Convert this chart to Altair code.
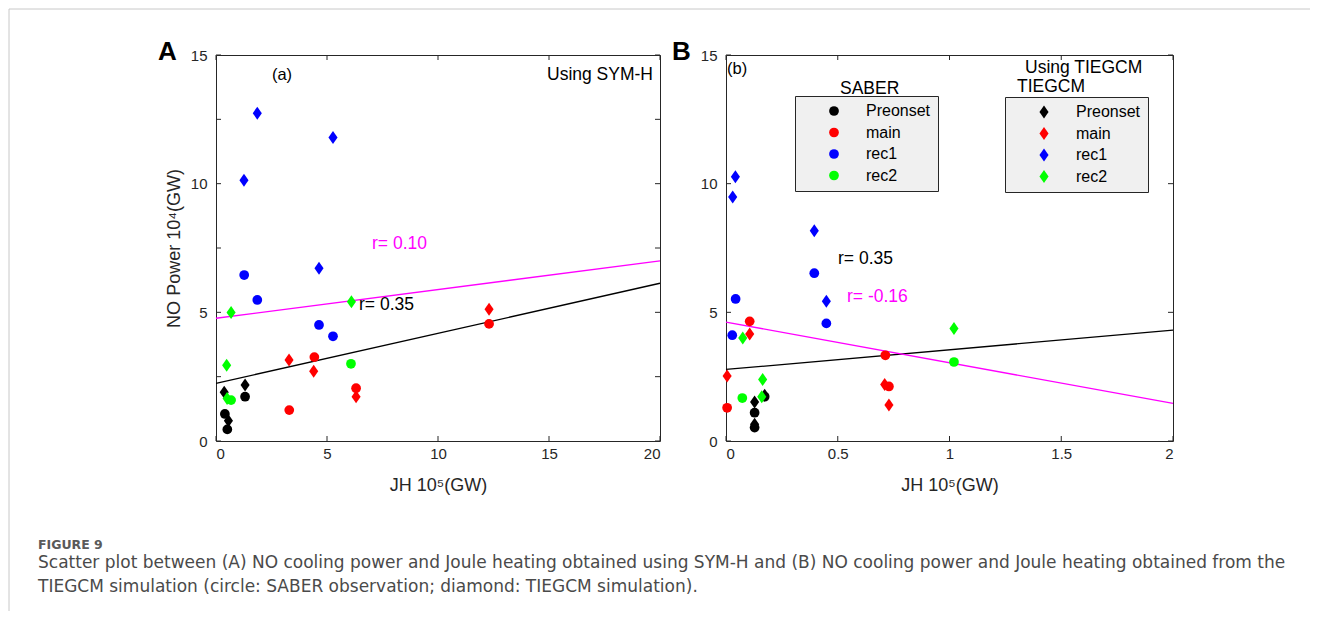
import altair as alt
import pandas as pd

# ---------------- data ----------------
phases = ["Preonset", "main", "rec1", "rec2"]
phase_colors = ["#000000", "#ff0000", "#0000ff", "#00ff00"]

# Panel A (using SYM-H): SABER circles
a_circ_phase = ["Preonset", "Preonset", "Preonset", "main", "main", "main", "main",
                "rec1", "rec1", "rec1", "rec1", "rec2", "rec2"]
a_circ_x = [0.40, 0.51, 1.31, 3.30, 4.43, 6.31, 12.30, 1.27, 1.86, 4.64, 5.27, 0.68, 6.08]
a_circ_y = [1.05, 0.45, 1.72, 1.20, 3.26, 2.05, 4.55, 6.45, 5.48, 4.51, 4.07, 1.59, 3.00]
# Panel A: TIEGCM diamonds
a_dia_phase = ["Preonset", "Preonset", "Preonset", "main", "main", "main", "main",
               "rec1", "rec1", "rec1", "rec1", "rec2", "rec2", "rec2", "rec2"]
a_dia_x = [0.37, 1.31, 0.56, 3.29, 4.40, 6.31, 12.30, 1.86, 5.27, 1.26, 4.64, 0.68, 6.10, 0.48, 0.50]
a_dia_y = [1.89, 2.18, 0.79, 3.15, 2.71, 1.72, 5.12, 12.74, 11.79, 10.13, 6.71, 4.99, 5.41, 2.94, 1.65]
# Panel A regression lines
a_fit_x = [0, 20]
a_fit_black = [2.24, 6.13]
a_fit_magenta = [4.77, 7.00]

# Panel B (TIEGCM): SABER circles
b_circ_phase = ["Preonset", "Preonset", "Preonset", "main", "main", "main", "main",
                "rec1", "rec1", "rec1", "rec1", "rec2", "rec2"]
b_circ_x = [0.128, 0.128, 0.173, 0.106, 0.713, 0.729, 0.005, 0.395, 0.043, 0.449, 0.028, 1.020, 0.073]
b_circ_y = [1.10, 0.52, 1.72, 4.65, 3.33, 2.12, 1.29, 6.52, 5.52, 4.57, 4.11, 3.07, 1.67]
# Panel B: TIEGCM diamonds
b_dia_phase = ["Preonset", "Preonset", "Preonset", "main", "main", "main", "main",
               "rec1", "rec1", "rec1", "rec1", "rec2", "rec2", "rec2", "rec2"]
b_dia_x = [0.173, 0.128, 0.128, 0.106, 0.005, 0.710, 0.729, 0.042, 0.030, 0.395, 0.449, 0.075, 1.020, 0.164, 0.160]
b_dia_y = [1.78, 1.52, 0.65, 4.16, 2.53, 2.20, 1.40, 10.27, 9.48, 8.17, 5.43, 4.00, 4.37, 2.39, 1.72]
# Panel B regression lines
b_fit_x = [0, 2]
b_fit_black = [2.78, 4.31]
b_fit_magenta = [4.62, 1.46]

a_xticks = [0, 5, 10, 15, 20]
a_yticks = [0, 2.5, 5, 7.5, 10, 12.5, 15]
b_xticks = [0, 0.5, 1, 1.5, 2]
b_yticks = [0, 5, 10, 15]
y_labels = [0, 5, 10, 15]

caption_head = "FIGURE 9"
caption_1 = ("Scatter plot between (A) NO cooling power and Joule heating obtained using SYM-H and "
             "(B) NO cooling power and Joule heating obtained from the")
caption_2 = "TIEGCM simulation (circle: SABER observation; diamond: TIEGCM simulation)."

# ---------------- styling ----------------
cmap = dict(zip(phases, phase_colors))
W_A, W_B, H = 444, 447, 386
DIAMOND = "M0,-1L0.7,0L0,1L-0.7,0Z"
AX = "#262626"
FONT = "Liberation Sans"
CAP_FONT = "DejaVu Sans"
ANN = 17.5


def pts(phase, x, y):
    return pd.DataFrame({"phase": phase, "x": x, "y": y,
                         "color": [cmap[p] for p in phase]})


one = pd.DataFrame({"k": [0]})


def label(text, x, y, size=ANN, color="#000000", align="left", weight="normal", font=FONT):
    return alt.Chart(one).mark_text(text=text, align=align, baseline="middle",
                                    fontSize=size, color=color, fontWeight=weight,
                                    font=font).encode(x=alt.value(x), y=alt.value(y))


def make_x(domain_x, xlabels):
    return alt.X("x:Q", scale=alt.Scale(domain=domain_x, nice=False, zero=False),
                 axis=alt.Axis(values=xlabels, title="JH 10\u2075(GW)", format="~g",
                               labelPadding=5, titlePadding=15))


def make_y(title):
    return alt.Y("y:Q", scale=alt.Scale(domain=[0, 15], nice=False),
                 axis=alt.Axis(values=y_labels, title=title, format="~g",
                               labelPadding=9, titlePadding=7))


def tick_layers(X, Y, W, xt, yt):
    dx = pd.DataFrame({"x": xt})
    dy = pd.DataFrame({"y": yt})
    r = dict(color=AX, strokeWidth=1)
    return [
        alt.Chart(dx).mark_rule(**r).encode(x=X, y=alt.value(H), y2=alt.value(H - 5)),
        alt.Chart(dx).mark_rule(**r).encode(x=X, y=alt.value(0), y2=alt.value(5)),
        alt.Chart(dy).mark_rule(**r).encode(y=Y, x=alt.value(0), x2=alt.value(5)),
        alt.Chart(dy).mark_rule(**r).encode(y=Y, x=alt.value(W - 5), x2=alt.value(W)),
    ]


def fit_line(xs, ys, color, X, Y):
    return alt.Chart(pd.DataFrame({"x": xs, "y": ys})).mark_line(
        color=color, strokeWidth=1.3).encode(x=X, y=Y)


# ---------------- Panel A ----------------
XA = make_x([0, 20], a_xticks)
YA = make_y("NO Power 10\u2074(GW)")
panel_a = alt.layer(
    *tick_layers(XA, YA, W_A, a_xticks, a_yticks),
    fit_line(a_fit_x, a_fit_magenta, "#ff00ff", XA, YA),
    fit_line(a_fit_x, a_fit_black, "#000000", XA, YA),
    alt.Chart(pts(a_circ_phase, a_circ_x, a_circ_y)).mark_circle(size=95, opacity=1).encode(
        x=XA, y=YA, color=alt.Color("color:N", scale=None)),
    alt.Chart(pts(a_dia_phase, a_dia_x, a_dia_y)).mark_point(
        shape=DIAMOND, filled=True, size=169, opacity=1, strokeWidth=0).encode(
        x=XA, y=YA, color=alt.Color("color:N", scale=None)),
    label("(a)", 66, 20, size=16.5, align="center"),
    label("Using SYM-H", 437, 20, align="right"),
    label("r= 0.10", 156, 189, color="#ff00ff"),
    label("r= 0.35", 143, 250),
    label("A", -58, -3, size=26, weight="bold"),
    # figure frame and caption
    alt.Chart(one).mark_rule(color="#c8c8c8", strokeWidth=1).encode(
        x=alt.value(-207), x2=alt.value(1094), y=alt.value(-46)),
    alt.Chart(one).mark_rule(color="#c8c8c8", strokeWidth=1).encode(
        x=alt.value(-207), y=alt.value(-46), y2=alt.value(556)),
    label(caption_head, -178, 490, size=12.5, color="#5a5a5a", weight="bold", font=CAP_FONT),
    label(caption_1, -178, 508, size=17, color="#4a4a4a", font=CAP_FONT),
    label(caption_2, -178, 532, size=17, color="#4a4a4a", font=CAP_FONT),
).properties(width=W_A, height=H)

# ---------------- Panel B ----------------
XB = make_x([0, 2], b_xticks)
YB = make_y(None)

common_legend = dict(title=None, orient="none", fillColor="#f0f0f0", strokeColor=AX,
                     padding=7, rowPadding=5.5, labelFont=FONT, labelFontSize=16,
                     labelColor="#000000", symbolOpacity=1, symbolStrokeWidth=0,
                     labelOffset=24)

circ_b = alt.Chart(pts(b_circ_phase, b_circ_x, b_circ_y)).mark_circle(size=95, opacity=1).encode(
    x=XB, y=YB,
    color=alt.Color("phase:N", scale=alt.Scale(domain=phases, range=phase_colors),
                    legend=alt.Legend(legendX=69, legendY=41, symbolType="circle",
                                      symbolSize=95, symbolOffset=24, **common_legend)))
dia_b = alt.Chart(pts(b_dia_phase, b_dia_x, b_dia_y)).mark_point(
    shape=DIAMOND, filled=True, size=169, opacity=1, strokeWidth=0).encode(
    x=XB, y=YB,
    color=alt.Color("phase:N", scale=alt.Scale(domain=phases, range=phase_colors),
                    legend=alt.Legend(legendX=279, legendY=42, symbolType=DIAMOND,
                                      symbolSize=169, symbolOffset=24, **common_legend)))

panel_b = alt.layer(
    *tick_layers(XB, YB, W_B, b_xticks, b_yticks),
    fit_line(b_fit_x, b_fit_black, "#000000", XB, YB),
    fit_line(b_fit_x, b_fit_magenta, "#ff00ff", XB, YB),
    circ_b,
    dia_b,
    label("(b)", 1, 14, size=16.5),
    label("Using TIEGCM", 299, 13),
    label("TIEGCM", 291, 32),
    label("SABER", 114, 34),
    label("r= 0.35", 112, 204),
    label("r= -0.16", 121, 242, color="#ff00ff"),
    label("B", -54, -3, size=26, weight="bold"),
).properties(width=W_B, height=H).resolve_scale(color="independent")

chart = alt.hconcat(panel_a, panel_b, spacing=66, bounds="flush").properties(
    padding=0, background="white"
).configure_view(stroke=AX, strokeWidth=1).configure_axis(
    domain=False, grid=False, ticks=False, labelFont=FONT, labelFontSize=15,
    labelColor=AX, titleFont=FONT, titleFontSize=18, titleFontWeight="normal",
    titleColor=AX
)

chart.save("out.html", embed_options={"renderer": "svg", "actions": False})
